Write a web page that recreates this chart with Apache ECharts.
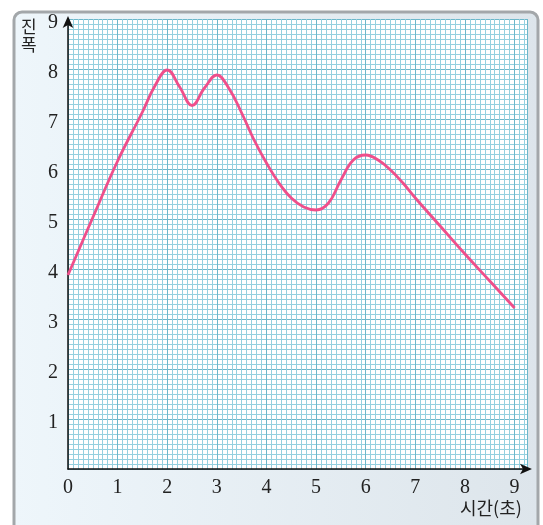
<!DOCTYPE html>
<html>
<head>
<meta charset="utf-8">
<script src="https://cdn.jsdelivr.net/npm/echarts@6/dist/echarts.min.js"></script>
<style>
html, body { margin: 0; padding: 0; background: #fff; }
#chart { width: 543px; height: 525px; }
</style>
</head>
<body>
<div id="chart"></div>
<script>
// 시간(초) / 진폭 값
var times = [0, 0.5, 1, 1.5, 1.75, 2, 2.25, 2.5, 2.75, 3, 3.25, 3.5, 3.75, 4, 4.25, 4.5, 4.75, 5,
             5.25, 5.5, 5.75, 6, 6.25, 6.5, 6.75, 7, 7.5, 8, 8.5, 9];
var amps  = [3.88, 5.03, 6.16, 7.14, 7.66, 7.98, 7.64, 7.27, 7.62, 7.88, 7.6, 7.12, 6.58, 6.12, 5.72, 5.42, 5.24, 5.18,
             5.32, 5.78, 6.18, 6.28, 6.18, 5.98, 5.72, 5.42, 4.86, 4.3, 3.76, 3.22];
var xTicks = [0, 1, 2, 3, 4, 5, 6, 7, 8, 9];
var yTicks = [1, 2, 3, 4, 5, 6, 7, 8, 9];

var myChart = echarts.init(document.getElementById('chart'));

var points = times.map(function (t, i) { return [t, amps[i]]; });

var numFont = {
    color: '#222',
    fontFamily: 'Liberation Serif',
    fontSize: 20
};

option = {
    animation: false,
    graphic: [
        {
            type: 'rect',
            z: -10,
            shape: { x: 14, y: 12, width: 524, height: 540, r: 8 },
            style: {
                fill: new echarts.graphic.LinearGradient(0, 0, 1, 0, [
                    { offset: 0, color: '#eef6fb' },
                    { offset: 1, color: '#dde5eb' }
                ]),
                stroke: '#a3a7aa',
                lineWidth: 3
            }
        },
        {
            type: 'text',
            left: 21,
            top: 18,
            style: {
                text: '진\n폭',
                fill: '#222',
                font: '17px "Noto Sans CJK KR"',
                lineHeight: 18
            }
        },
        {
            type: 'text',
            left: 460,
            top: 499,
            style: {
                text: '시간(초)',
                fill: '#222',
                font: '18px "Noto Sans CJK KR"'
            }
        }
    ],
    grid: {
        left: 68,
        top: 19,
        width: 459,
        height: 450,
        show: true,
        backgroundColor: '#fff',
        borderWidth: 0
    },
    xAxis: [
        {
            type: 'value',
            min: 0,
            max: 9.25,
            interval: 0.1,
            axisLine: { show: false },
            axisTick: { show: false },
            axisLabel: { show: false },
            splitLine: { lineStyle: { color: '#94d0df', width: 1 } }
        },
        {
            type: 'value',
            min: 0,
            max: 9.25,
            interval: 1,
            position: 'bottom',
            axisLine: {
                show: true,
                symbol: ['none', 'arrow'],
                symbolSize: [8, 12],
                symbolOffset: [0, 5],
                lineStyle: { color: '#111', width: 1.5 }
            },
            axisTick: { show: false },
            axisLabel: {
                margin: 9,
                color: numFont.color,
                fontFamily: numFont.fontFamily,
                fontSize: numFont.fontSize,
                formatter: function (v) {
                    return xTicks.indexOf(v) >= 0 ? String(v) : '';
                }
            },
            splitLine: { show: true, lineStyle: { color: '#6db7ca', width: 1 } }
        }
    ],
    yAxis: [
        {
            type: 'value',
            min: 0,
            max: 9,
            interval: 0.1,
            axisLine: { show: false },
            axisTick: { show: false },
            axisLabel: { show: false },
            splitLine: { lineStyle: { color: '#94d0df', width: 1 } }
        },
        {
            type: 'value',
            min: 0,
            max: 9,
            interval: 1,
            position: 'left',
            axisLine: {
                show: true,
                symbol: ['none', 'arrow'],
                symbolSize: [8, 12],
                symbolOffset: [0, 3],
                lineStyle: { color: '#111', width: 1.5 }
            },
            axisTick: { show: false },
            axisLabel: {
                margin: 10,
                formatter: function (v) {
                    return yTicks.indexOf(v) >= 0 ? '{n|' + v + '}' : '';
                },
                rich: {
                    n: {
                        color: numFont.color,
                        fontFamily: numFont.fontFamily,
                        fontSize: numFont.fontSize,
                        padding: [7, 0, 0, 0]
                    }
                }
            },
            splitLine: { show: true, lineStyle: { color: '#6db7ca', width: 1 } }
        }
    ],
    series: [{
        type: 'line',
        xAxisIndex: 1,
        yAxisIndex: 1,
        data: points,
        smooth: 0.42,
        showSymbol: false,
        lineStyle: { color: '#ef4f8b', width: 2.8 },
        z: 5
    }]
};
myChart.setOption(option);
</script>
</body>
</html>
